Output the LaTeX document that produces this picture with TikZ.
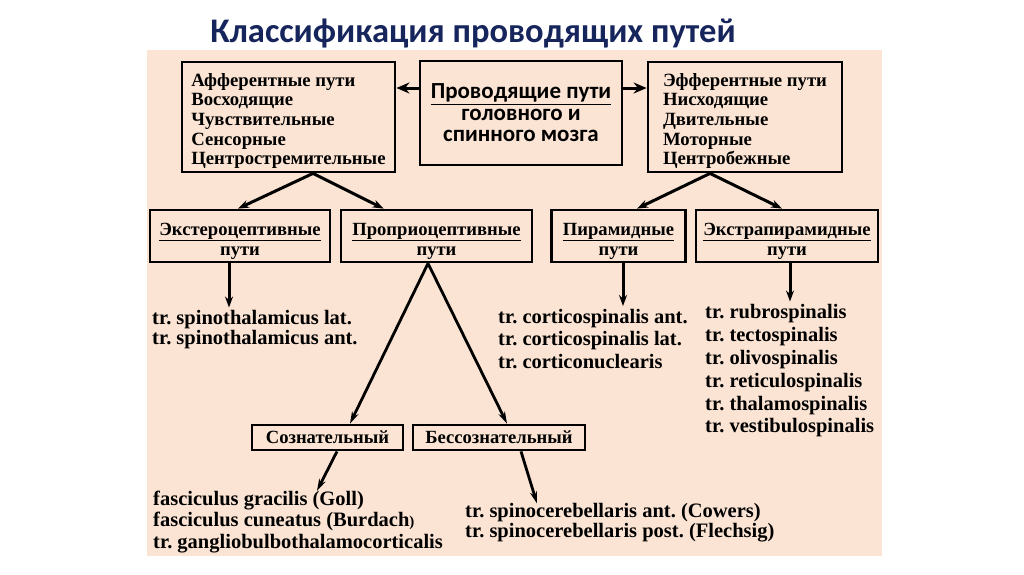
\documentclass[tikz,border=0pt]{standalone}
\usepackage{fontspec}
\setmainfont{Liberation Serif}
\newfontfamily\cbfont{Carlito}
\usetikzlibrary{arrows.meta, positioning, calc}
\definecolor{slidebg}{HTML}{FBE4D3}
\definecolor{titleblue}{HTML}{16255C}
\frenchspacing
\newcommand{\toplift}[1]{\rule{0pt}{#1}}

\begin{document}
\begin{tikzpicture}[x=1pt, y=-1pt,
    box/.style={rectangle, draw=black, line width=2.8pt, fill=slidebg,
                align=center, inner sep=2pt,
                font=\fontsize{18.6}{20}\selectfont\bfseries},
    big/.style={box, align=left, minimum height=110pt,
                font=\fontsize{18.7}{19.6}\selectfont\bfseries},
    lst/.style={align=left, anchor=west, inner sep=0pt,
                font=\fontsize{20.5}{#1}\selectfont\bfseries},
    lst/.default=22,
    arr/.style={line width=3pt, -{Stealth[length=11pt, width=8pt]}},
    arrh/.style={line width=3pt, -{Stealth[length=13pt, width=11pt]}},
    arrs/.style={line width=2.8pt, -{Stealth[length=12pt, width=7pt]}}
]
\useasboundingbox (0,0) rectangle (1024,574);
\fill[white] (0,0) rectangle (1024,574);
\fill[slidebg] (147,50) rectangle (882,556);

\node[font=\cbfont\bfseries\fontsize{34.5}{36}\selectfont, text=titleblue] (title) at (473,33) {Классификация проводящих путей};

% top row
\node[big, minimum width=213pt] (aff) at (288.5,117) {\toplift{21pt}Афферентные пути\\Восходящие\\Чувствительные\\Сенсорные\\Центростремительные};
\node[box, minimum width=202pt, minimum height=104pt,
      font=\cbfont\bfseries\fontsize{23}{21.5}\selectfont] (centre) at (521,113) {\underline{Проводящие пути}\\головного и\\спинного мозга};
\node[big, minimum width=194pt] (eff) at (745,117) {\toplift{21pt}Эфферентные пути\\Нисходящие\\Двительные\\Моторные\\Центробежные};

% second row
\node[box, minimum width=180pt, minimum height=52pt] (extero)   at (240,236)   {\toplift{22pt}\underline{Экстероцептивные}\\пути};
\node[box, minimum width=191pt, minimum height=52pt] (proprio)  at (436.5,236) {\toplift{22pt}\underline{Проприоцептивные}\\пути};
\node[box, minimum width=134pt, minimum height=52pt] (pyr)      at (618.5,236) {\toplift{22pt}\underline{Пирамидные}\\пути};
\node[box, minimum width=182pt, minimum height=52pt] (extrapyr) at (787,236)   {\toplift{22pt}\underline{Экстрапирамидные}\\пути};

\node[box, minimum width=151pt, minimum height=25pt] (consc)  at (327.5,437.5) {Сознательный};
\node[box, minimum width=172pt, minimum height=25pt] (uncons) at (499,437.5)   {Бессознательный};

% tract lists
\node[lst=20]   (spino)     at (152,330) {tr. spinothalamicus lat.\\tr. spinothalamicus ant.};
\node[lst=22.5] (pyrlist)   at (498,339) {tr. corticospinalis ant.\\tr. corticospinalis lat.\\tr. corticonuclearis};
\node[lst=22.8] (extralist) at (705,371) {tr. rubrospinalis\\tr. tectospinalis\\tr. olivospinalis\\tr. reticulospinalis\\tr. thalamospinalis\\tr. vestibulospinalis};
\node[lst=21.5] (conscl)    at (153,522) {fasciculus gracilis (Goll)\\fasciculus cuneatus (Burdach{\fontsize{15}{15}\selectfont)}\\tr. gangliobulbothalamocorticalis};
\node[lst=20]   (unconsl)   at (465,523) {tr. spinocerebellaris ant. (Cowers)\\tr. spinocerebellaris post. (Flechsig)};

\draw[arrh] ([yshift=25pt]centre.west) -- ([yshift=29pt]aff.east);
\draw[arrh] ([yshift=25pt]centre.east) -- ([yshift=29pt]eff.west);
\draw[arr] ([xshift=24.5pt]aff.south) -- ([xshift=-2pt]extero.north);
\draw[arr] ([xshift=24.5pt]aff.south) -- ([xshift=44pt]proprio.north west);
\draw[arr] ([xshift=-35pt]eff.south) -- ([xshift=18.5pt]pyr.north);
\draw[arr] ([xshift=-35pt]eff.south) -- ([xshift=-5pt]extrapyr.north);

\draw[arr, shorten >=3pt] ([xshift=-11pt]extero.south) -- ([xshift=77pt]spino.north west);
\draw[arr, shorten >=3pt] ([xshift=4.5pt]pyr.south) -- ([xshift=125pt]pyrlist.north west);
\draw[arr, shorten >=3pt] ([xshift=3pt]extrapyr.south) -- ([xshift=85pt]extralist.north west);

\draw[arrs] ([xshift=-8.5pt]proprio.south) -- ([xshift=22.5pt]consc.north);
\draw[arrs] ([xshift=-8.5pt]proprio.south) -- ([xshift=8pt]uncons.north);
\draw[arrs] ([xshift=9.5pt]consc.south) -- ([xshift=164pt]conscl.north west);
\draw[arrs] ([xshift=22pt]uncons.south) -- ([xshift=72pt]unconsl.north west);
\end{tikzpicture}
\end{document}
